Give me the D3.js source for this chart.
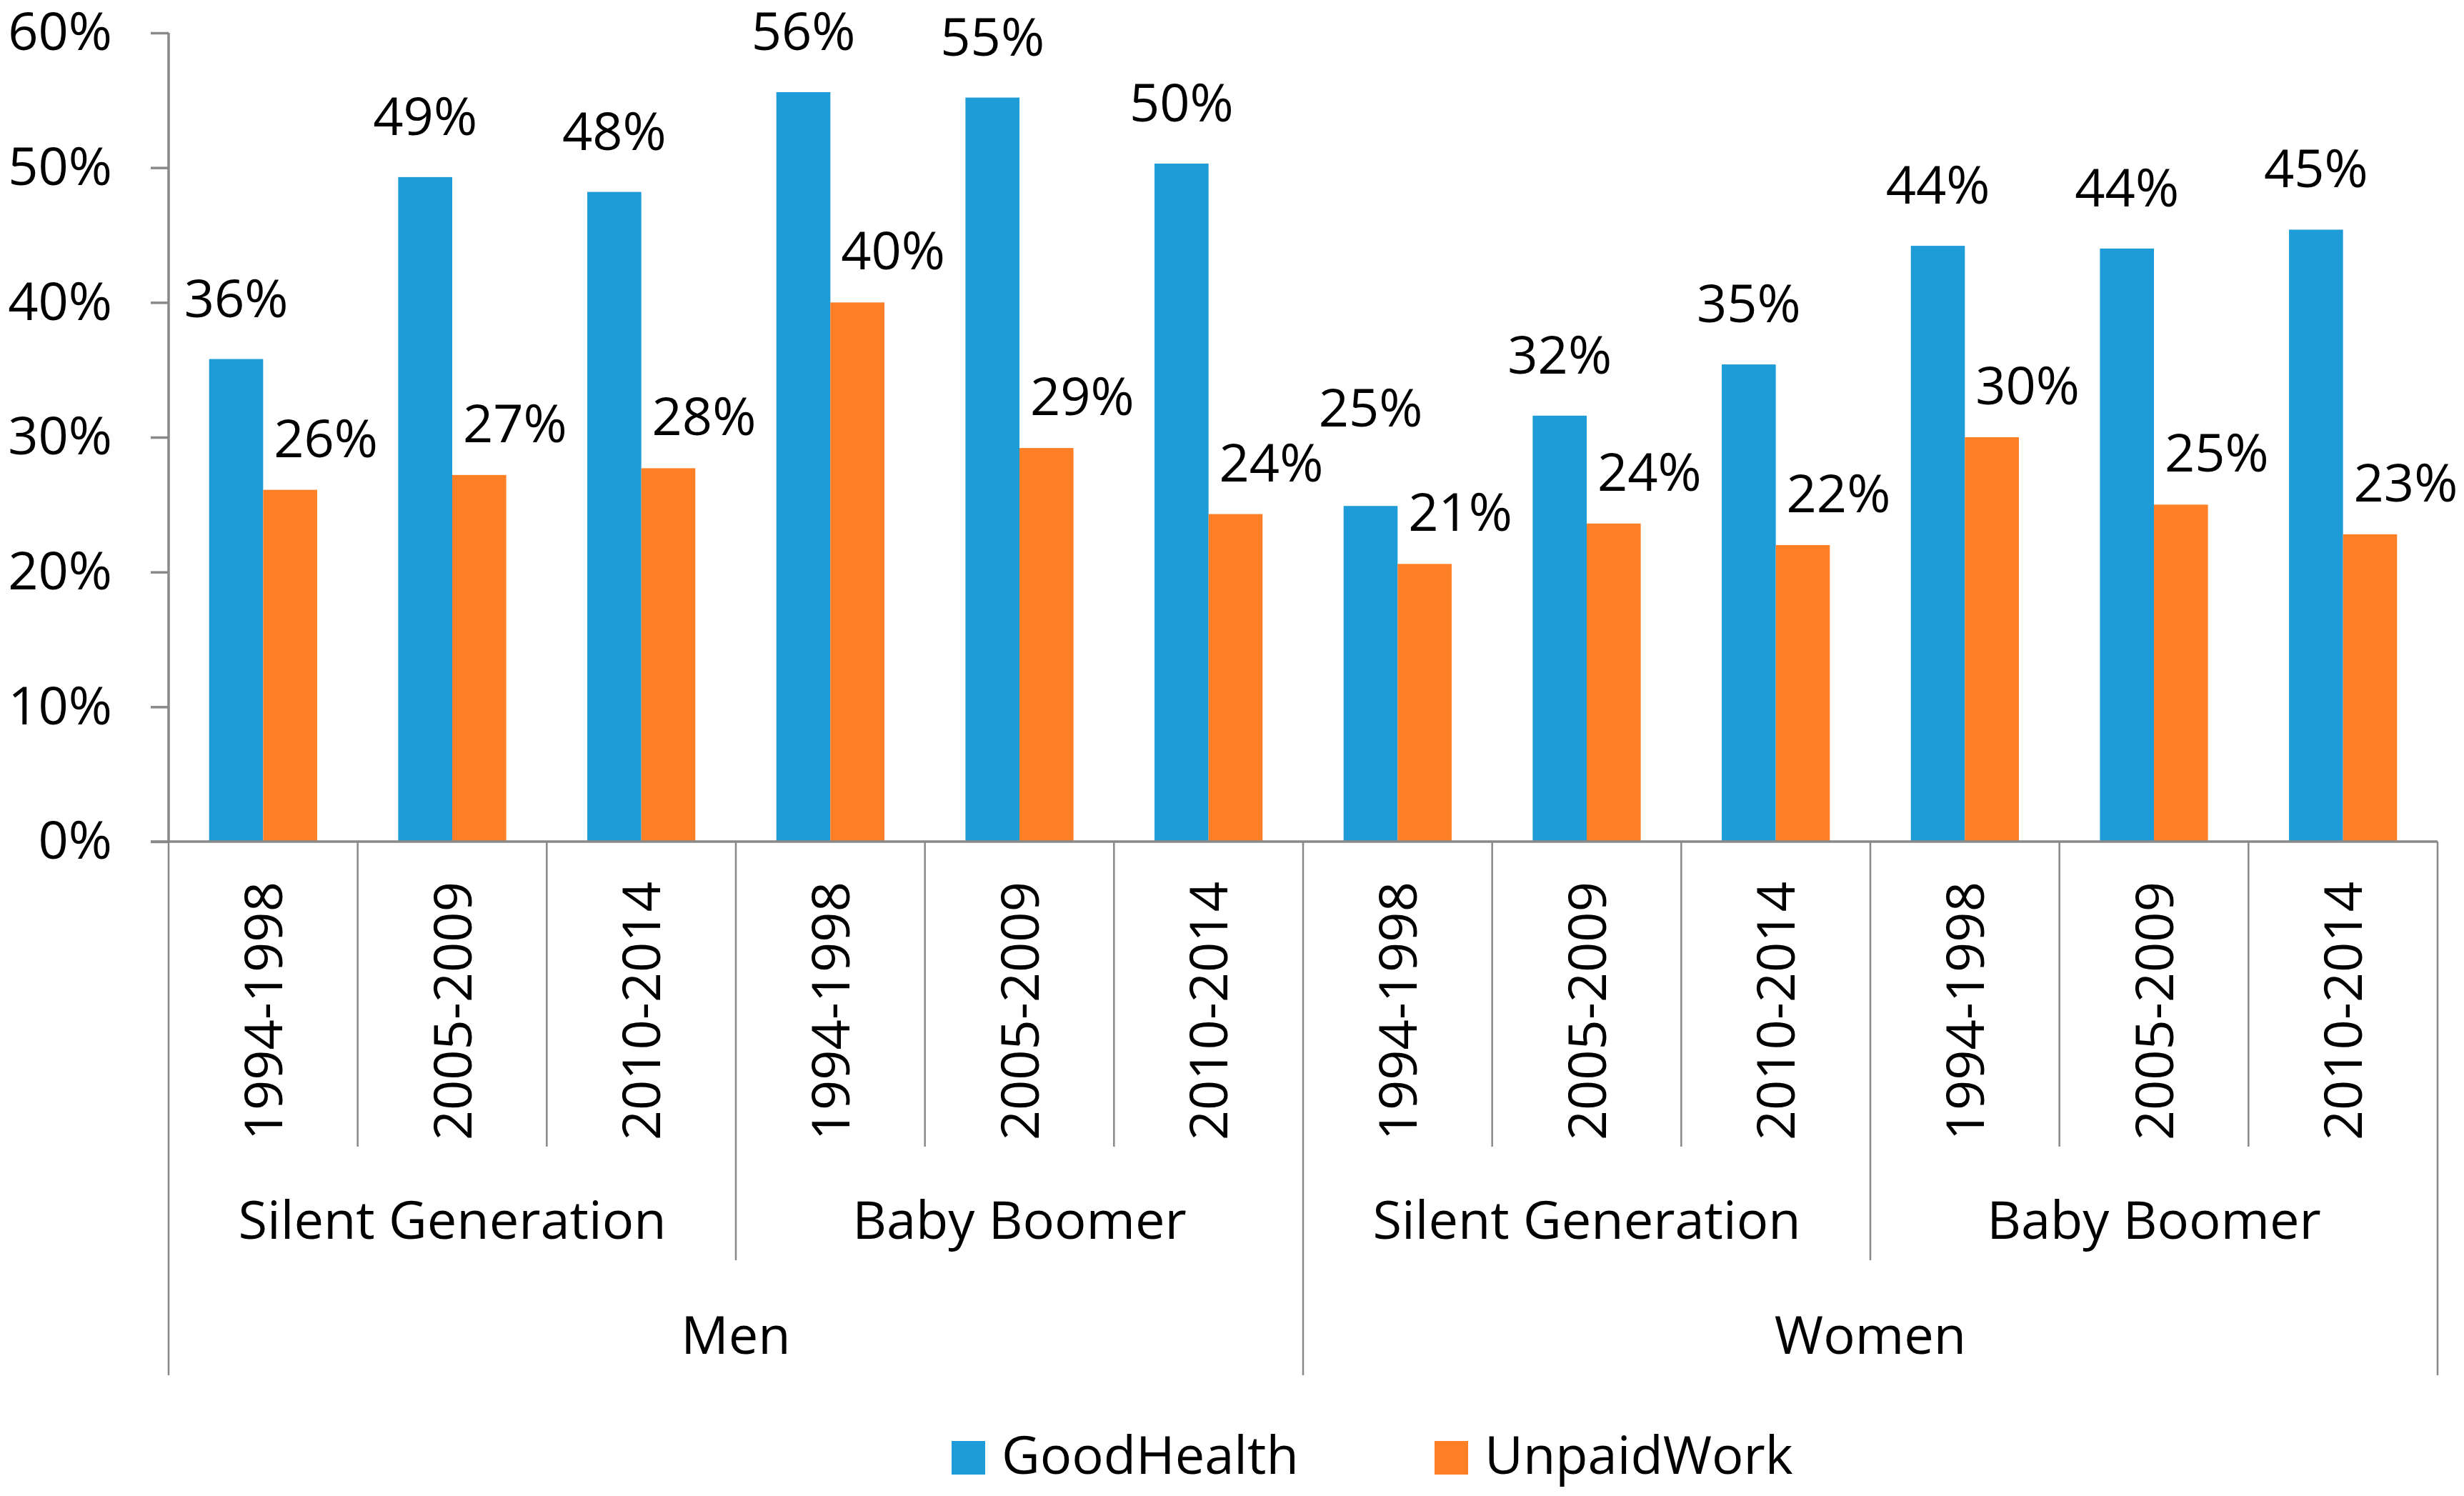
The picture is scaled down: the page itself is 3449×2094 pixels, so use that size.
<!DOCTYPE html>
<html>
<head>
<meta charset="utf-8">
<script src="https://cdn.jsdelivr.net/npm/d3@7/dist/d3.min.js"></script>
<style>
  body { margin: 0; background: #fff; }
  text { font-family: "Open Sans", "Noto Sans", sans-serif; fill: #000; }
</style>
</head>
<body>
<script>
// ---- data ----
var periods = ["1994-1998", "2005-2009", "2010-2014",
               "1994-1998", "2005-2009", "2010-2014",
               "1994-1998", "2005-2009", "2010-2014",
               "1994-1998", "2005-2009", "2010-2014"];
var generations = ["Silent Generation", "Baby Boomer", "Silent Generation", "Baby Boomer"];
var sexes = ["Men", "Women"];
var seriesNames = ["GoodHealth", "UnpaidWork"];
var goodHealth = [35.8, 49.3, 48.2, 55.6, 55.2, 50.3, 24.9, 31.6, 35.4, 44.2, 44.0, 45.4];
var unpaidWork = [26.1, 27.2, 27.7, 40.0, 29.2, 24.3, 20.6, 23.6, 22.0, 30.0, 25.0, 22.8];
var yTicks = [0, 10, 20, 30, 40, 50, 60];

var colors = { GoodHealth: "#1E9CD8", UnpaidWork: "#FF7F27" };
var gridGray = "#898989";

var W = 3449, H = 2094;
var plotLeft = 236, plotRight = 3412, plotTop = 46, plotBase = 1178;
var fs = 74;

var svg = d3.select("body").append("svg")
  .attr("width", W).attr("height", H);

// scales
var x0 = d3.scaleBand()
  .domain(d3.range(periods.length))
  .range([plotLeft, plotRight])
  .padding(0);
var cw = x0.bandwidth();
var barW = cw / 3.5; // gap width 150%
var x1 = d3.scaleBand()
  .domain(seriesNames)
  .range([0.75 * barW, 2.75 * barW]);

var y = d3.scaleLinear().domain([0, 60]).range([plotBase, plotTop]);

// flat list of bars
var bars = [];
periods.forEach(function (p, i) {
  bars.push({ i: i, s: "GoodHealth", v: goodHealth[i] });
  bars.push({ i: i, s: "UnpaidWork", v: unpaidWork[i] });
});

svg.append("g").selectAll("rect").data(bars).enter().append("rect")
  .attr("x", function (d) { return x0(d.i) + x1(d.s); })
  .attr("width", x1.bandwidth())
  .attr("y", function (d) { return y(d.v); })
  .attr("height", function (d) { return plotBase - y(d.v); })
  .attr("fill", function (d) { return colors[d.s]; });

// label positions: blue centred above bar, orange nudged right
var labH = 53, labW = 142;
bars.forEach(function (d) {
  var cx = x0(d.i) + x1(d.s) + x1.bandwidth() / 2;
  if (d.s === "UnpaidWork") {
    d.lx = cx + 50;
    d.ly = y(d.v) - 46;
  } else {
    d.lx = cx;
    d.ly = y(d.v) - 59;
  }
});
// push a label up if it runs into the previous one
for (var k = 1; k < bars.length; k++) {
  var a = bars[k - 1], b = bars[k];
  if (Math.abs(a.lx - b.lx) < labW && Math.abs(a.ly - b.ly) < labH + 20) {
    if (b.ly > a.ly - labH - 24) b.ly = a.ly - labH - 24;
  }
}

svg.append("g").selectAll("text").data(bars).enter().append("text")
  .attr("x", function (d) { return d.lx; })
  .attr("y", function (d) { return d.ly; })
  .attr("text-anchor", "middle")
  .style("font-size", fs + "px")
  .text(function (d) { return Math.round(d.v) + "%"; });

// y axis
var yAxis = d3.axisLeft(y)
  .tickValues(yTicks)
  .tickSize(25)
  .tickPadding(54)
  .tickFormat(function (d) { return d + "%"; });

var gy = svg.append("g")
  .attr("transform", "translate(" + plotLeft + ",0)")
  .call(yAxis);
gy.select(".domain").attr("stroke", gridGray).attr("stroke-width", 3.5)
  .attr("d", "M0," + plotTop + "V" + plotBase);
gy.selectAll(".tick line").attr("stroke", gridGray).attr("stroke-width", 3.5);
gy.selectAll(".tick text")
  .style("font-size", fs + "px")
  .style("font-family", "'Open Sans', sans-serif")
  .attr("fill", "#000");

// baseline
svg.append("line")
  .attr("x1", plotLeft - 25).attr("x2", plotRight)
  .attr("y1", plotBase).attr("y2", plotBase)
  .attr("stroke", gridGray).attr("stroke-width", 3.5);

// category separators below axis
var bounds = d3.range(periods.length + 1);
svg.append("g").selectAll("line").data(bounds).enter().append("line")
  .attr("x1", function (d) { return plotLeft + d * cw; })
  .attr("x2", function (d) { return plotLeft + d * cw; })
  .attr("y1", plotBase)
  .attr("y2", function (d) {
    if (d % 6 === 0) return 1925;
    if (d % 3 === 0) return 1764;
    return 1605;
  })
  .attr("stroke", gridGray).attr("stroke-width", 2.5);

// period labels (rotated)
svg.append("g").selectAll("text").data(periods).enter().append("text")
  .attr("transform", function (d, i) {
    return "translate(" + (x0(i) + cw / 2) + ",1234) rotate(-90)";
  })
  .attr("text-anchor", "end")
  .attr("dy", "0.36em")
  .style("font-size", fs + "px")
  .text(function (d) { return d; });

// generation labels
svg.append("g").selectAll("text").data(generations).enter().append("text")
  .attr("x", function (d, i) { return plotLeft + (i * 3 + 1.5) * cw; })
  .attr("y", 1734)
  .attr("text-anchor", "middle")
  .style("font-size", fs + "px")
  .text(function (d) { return d; });

// sex labels
svg.append("g").selectAll("text").data(sexes).enter().append("text")
  .attr("x", function (d, i) { return plotLeft + (i * 6 + 3) * cw; })
  .attr("y", 1895)
  .attr("text-anchor", "middle")
  .style("font-size", fs + "px")
  .text(function (d) { return d; });

// legend
var legendX = [1332, 2008];
var lg = svg.append("g").selectAll("g").data(seriesNames).enter().append("g")
  .attr("transform", function (d, i) { return "translate(" + legendX[i] + ",2017)"; });
lg.append("rect")
  .attr("width", 47).attr("height", 47)
  .attr("fill", function (d) { return colors[d]; });
lg.append("text")
  .attr("x", 70).attr("y", 46)
  .style("font-size", fs + "px")
  .text(function (d) { return d; });
</script>
</body>
</html>
